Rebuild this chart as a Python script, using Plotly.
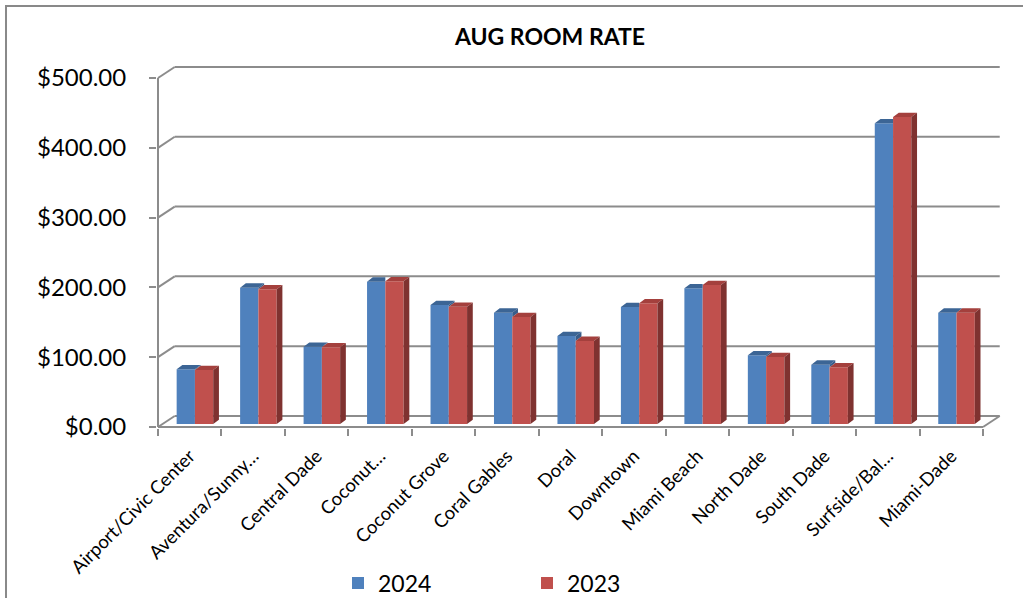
import plotly.graph_objects as go

# ---------------- data ----------------
categories = ["Airport/Civic Center", "Aventura/Sunny…", "Central Dade", "Coconut…",
              "Coconut Grove", "Coral Gables", "Doral", "Downtown", "Miami Beach",
              "North Dade", "South Dade", "Surfside/Bal…", "Miami-Dade"]
rate_2024 = [78.4, 195.3, 110.7, 203.9, 170.5, 159.5, 126.0, 167.6, 194.4, 98.4, 85.0, 430.8, 159.5]
rate_2023 = [77.4, 193.0, 109.9, 204.4, 168.0, 153.3, 119.0, 172.9, 199.1, 96.0, 81.2, 439.8, 159.5]
y_ticks = [0, 100, 200, 300, 400, 500]
series_names = ["2024", "2023"]

# ---------------- style ----------------
FONT = "Lato"
BLUE, BLUE_TOP, BLUE_SIDE = "#4F81BD", "#3C6595", "#385D8A"
RED, RED_TOP, RED_SIDE = "#C0504D", "#A4403D", "#7F3230"
GRID = "#8C8C8C"

W = 0.288          # bar width (category units)
SHIFT = 0.082      # perspective shift of bar pair
BASE = 4.3         # bars sit slightly behind the front edge
DX, DY = 0.09, 6.2     # bar depth
GX, GY = 0.263, 15.8   # wall depth

n = len(categories)
xs = list(range(n))

fig = go.Figure()

# front faces (bars)
fig.add_trace(go.Bar(x=xs, y=rate_2024, name=series_names[0], base=BASE, width=W,
                     offset=SHIFT - W, marker=dict(color=BLUE, line=dict(width=0))))
fig.add_trace(go.Bar(x=xs, y=rate_2023, name=series_names[1], base=BASE, width=W,
                     offset=SHIFT, marker=dict(color=RED, line=dict(width=0))))

def poly_trace(px, py, color):
    return go.Scatter(x=px, y=py, mode="lines", fill="toself", fillcolor=color,
                      line=dict(width=0, color=color), hoverinfo="skip", showlegend=False)

# blue top / side faces
btx, bty, bsx, bsy = [], [], [], []
for i, (vb, vr) in enumerate(zip(rate_2024, rate_2023)):
    x0 = i + SHIFT - W
    x1 = x0 + W
    t = BASE + vb
    if vr > vb:
        btx += [x0, x1, x1, x0 + DX, x0, None]
        bty += [t, t, t + DY, t + DY, t, None]
    else:
        btx += [x0, x1, x1 + DX, x0 + DX, x0, None]
        bty += [t, t, t + DY, t + DY, t, None]
        lo = BASE + vr
        bsx += [x1, x1, x1 + DX, x1 + DX, x1, None]
        bsy += [lo, t, t + DY, lo + DY, lo, None]
fig.add_trace(poly_trace(btx, bty, BLUE_TOP))
fig.add_trace(poly_trace(bsx, bsy, BLUE_SIDE))

rtx, rty, rsx, rsy = [], [], [], []
for i, vr in enumerate(rate_2023):
    x0 = i + SHIFT
    x1 = x0 + W
    t = BASE + vr
    rtx += [x0, x1, x1 + DX, x0 + DX, x0, None]
    rty += [t, t, t + DY, t + DY, t, None]
    rsx += [x1, x1, x1 + DX, x1 + DX, x1, None]
    rsy += [BASE, t, t + DY, BASE + DY, BASE, None]
fig.add_trace(poly_trace(rtx, rty, RED_TOP))
fig.add_trace(poly_trace(rsx, rsy, RED_SIDE))

# ---------------- walls / gridlines as shapes ----------------
shapes = []
left, right = -0.5, n - 0.5
for v in y_ticks:
    shapes.append(dict(type="line", xref="x", yref="y", x0=left + GX, x1=right + GX,
                       y0=v + GY, y1=v + GY, line=dict(color=GRID, width=2), layer="below"))
    shapes.append(dict(type="line", xref="x", yref="y", x0=left, x1=left + GX,
                       y0=v, y1=v + GY, line=dict(color=GRID, width=2), layer="below"))
# left axis (front)
shapes.append(dict(type="line", xref="x", yref="y", x0=left, x1=left, y0=y_ticks[0], y1=y_ticks[-1],
                   line=dict(color=GRID, width=2), layer="below"))
# front floor edge + right floor diagonal
shapes.append(dict(type="line", xref="x", yref="y", x0=left, x1=right, y0=0, y1=0,
                   line=dict(color=GRID, width=2), layer="below"))
shapes.append(dict(type="line", xref="x", yref="y", x0=right, x1=right + GX, y0=0, y1=GY,
                   line=dict(color=GRID, width=2), layer="below"))
# outer chart border
shapes.append(dict(type="rect", xref="paper", yref="paper", x0=-0.1789, x1=1.04, y0=-0.5, y1=1.1467,
                   line=dict(color="#898989", width=2), fillcolor="rgba(0,0,0,0)", layer="below"))

# ranges (px -> units)
PXX, PXY = 63.54, 0.698
fig.update_layout(
    template="none",
    width=1023, height=598,
    margin=dict(l=157, r=22, t=60, b=170),
    paper_bgcolor="white", plot_bgcolor="rgba(0,0,0,0)",
    barmode="overlay",
    shapes=shapes,
    title=dict(text="<b>AUG ROOM RATE</b>", x=550 / 1023, xanchor="center", xref="container",
               y=1 - 37 / 598, yanchor="middle", yref="container",
               font=dict(family=FONT, size=23, color="black")),
    xaxis=dict(range=[left - 1 / PXX, left + 844 / PXX], tickvals=xs, ticktext=categories,
               tickangle=-45, ticks="outside", ticklen=9, tickcolor="rgba(0,0,0,0)",
               showgrid=False, zeroline=False, showline=False, automargin=False,
               minor=dict(tick0=0.5, dtick=1, ticks="outside", ticklen=7, tickcolor=GRID,
                          tickwidth=2, showgrid=False),
               tickfont=dict(family=FONT, size=18.5, color="black")),
    yaxis=dict(range=[-1 / PXY, 367 / PXY], tickvals=y_ticks, tickformat="$.2f",
               ticks="outside", ticklen=7, tickcolor=GRID, tickwidth=2,
               ticklabelstandoff=18, automargin=False,
               showgrid=False, zeroline=False, showline=False,
               tickfont=dict(family=FONT, size=24, color="black")),
    legend=dict(orientation="h", xref="container", yref="container",
                x=338 / 1023, xanchor="left", y=1 - 583 / 598, yanchor="middle",
                entrywidth=144, entrywidthmode="pixels",
                font=dict(family=FONT, size=23, color="black"), bgcolor="rgba(0,0,0,0)"),
    showlegend=True,
)

fig.write_html("out.html", config={"displayModeBar": False},
               post_script="document.body.style.margin='0';")
